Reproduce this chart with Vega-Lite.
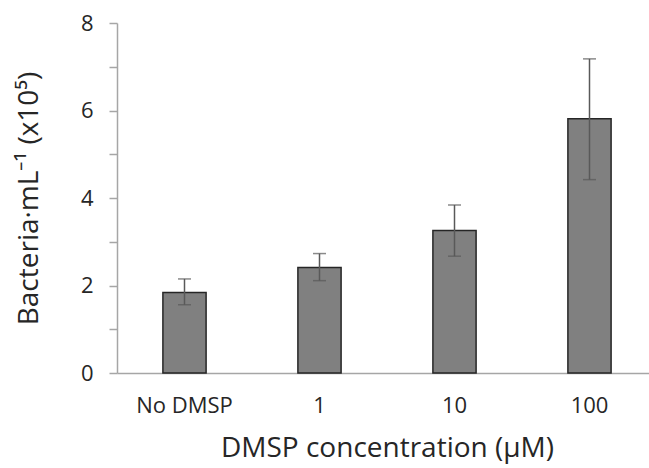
{
  "$schema": "https://vega.github.io/schema/vega-lite/v6.json",
  "autosize": {"type": "none"},
  "padding": {"left": 117, "top": 23, "right": 0, "bottom": 95},
  "width": 532,
  "height": 350,
  "background": "white",
  "config": {
    "view": {"stroke": null},
    "font": "Open Sans"
  },
  "data": {
    "values": [
      {"conc": "No DMSP", "mean": 1.84, "lo": 1.56, "hi": 2.15},
      {"conc": "1", "mean": 2.41, "lo": 2.11, "hi": 2.73},
      {"conc": "10", "mean": 3.26, "lo": 2.67, "hi": 3.84},
      {"conc": "100", "mean": 5.81, "lo": 4.42, "hi": 7.18}
    ]
  },
  "encoding": {
    "x": {
      "field": "conc",
      "type": "nominal",
      "sort": null,
      "scale": {"range": [0, 540], "paddingInner": 0.68, "paddingOuter": 0.34},
      "axis": {
        "title": "DMSP concentration (µM)",
        "labelAngle": 0,
        "ticks": false,
        "domainColor": "#a6a6a6",
        "domainWidth": 1.5,
        "labelFontSize": 22,
        "labelColor": "#262626",
        "labelPadding": 22,
        "titleFontSize": 28,
        "titleFontWeight": "normal",
        "titleColor": "#262626",
        "titlePadding": 18
      }
    }
  },
  "layer": [
    {
      "mark": {"type": "bar", "fill": "#808080", "stroke": "#262626", "strokeWidth": 1.5},
      "encoding": {
        "y": {
          "field": "mean",
          "type": "quantitative",
          "scale": {"domain": [0, 8], "nice": false},
          "axis": {
            "title": "Bacteria·mL⁻¹ (x10⁵)",
            "values": [0, 1, 2, 3, 4, 5, 6, 7, 8],
            "labelExpr": "datum.value % 2 === 0 ? datum.label : ''",
            "grid": false,
            "tickSize": 8,
            "tickColor": "#a6a6a6",
            "tickWidth": 1.5,
            "domainColor": "#a6a6a6",
            "domainWidth": 1.5,
            "labelFontSize": 22,
            "labelColor": "#262626",
            "labelPadding": 16,
            "titleFontSize": 28,
            "titleFontWeight": "normal",
            "titleColor": "#262626",
            "titlePadding": 37
          }
        }
      }
    },
    {
      "mark": {"type": "rule", "color": "#595959", "strokeWidth": 1.5},
      "encoding": {
        "y": {"field": "lo", "type": "quantitative"},
        "y2": {"field": "hi"}
      }
    },
    {
      "mark": {"type": "tick", "color": "#595959", "thickness": 1.5, "size": 13},
      "encoding": {"y": {"field": "hi", "type": "quantitative"}}
    },
    {
      "mark": {"type": "tick", "color": "#595959", "thickness": 1.5, "size": 13},
      "encoding": {"y": {"field": "lo", "type": "quantitative"}}
    }
  ]
}
